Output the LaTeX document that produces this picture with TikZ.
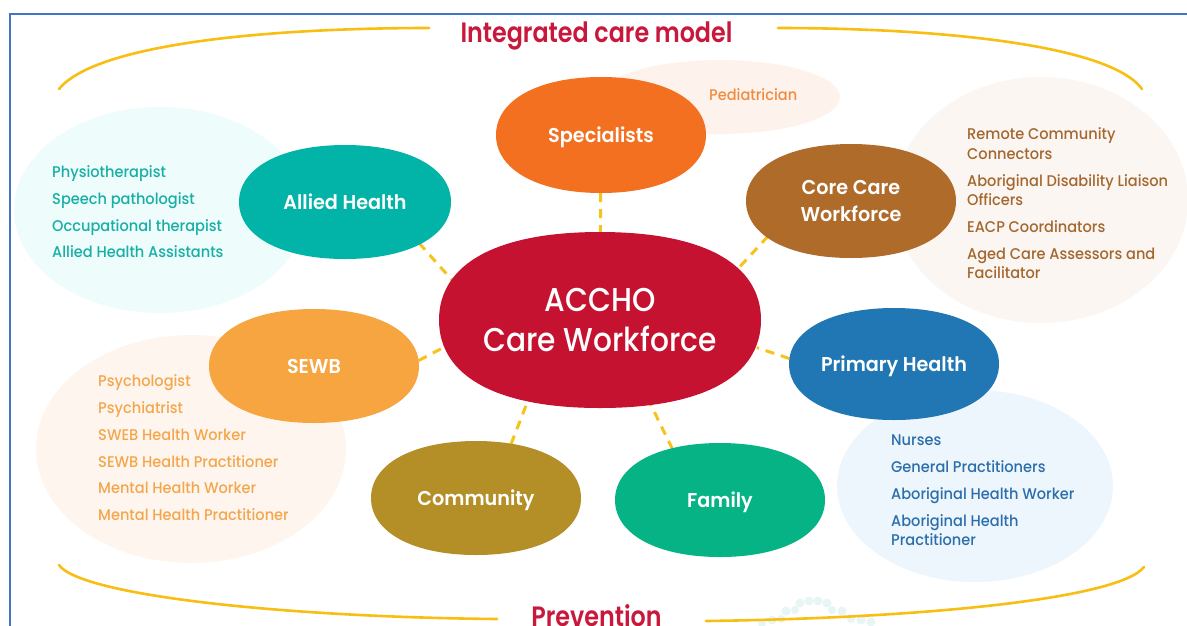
\documentclass[tikz,border=0pt]{standalone}
\usepackage{fontspec}
\setmainfont{Poppins}
\IfFontExistsTF{Poppins Medium}{\def\pmedname{Poppins Medium}}{\def\pmedname{Poppins}}
\IfFontExistsTF{Poppins SemiBold}{\def\psemname{Poppins SemiBold}}{\def\psemname{Poppins Bold}}
\newfontfamily\medf{\pmedname}[FakeStretch=0.94]
\newfontfamily\headf{\psemname}[FakeStretch=0.85]
\newfontfamily\bigf{\pmedname}[FakeStretch=0.9]
\newfontfamily\semif{\psemname}[FakeStretch=0.96]
\usetikzlibrary{shapes.geometric}
\pgfdeclarelayer{bg}\pgfdeclarelayer{conn}\pgfdeclarelayer{blobs}
\pgfsetlayers{bg,conn,blobs,main}
\definecolor{titlered}{HTML}{C8193C}
\definecolor{accred}{HTML}{C41230}
\definecolor{specor}{HTML}{F37021}
\definecolor{alliedteal}{HTML}{02B3A8}
\definecolor{corebrown}{HTML}{AE6B2A}
\definecolor{sewbor}{HTML}{F6A541}
\definecolor{primblue}{HTML}{2077B4}
\definecolor{commgold}{HTML}{B48F28}
\definecolor{famgreen}{HTML}{05B385}
\definecolor{dashcol}{HTML}{F8C21C}
\definecolor{curvecol}{HTML}{F9BE12}
\definecolor{frameblue}{HTML}{4472C4}
\definecolor{alliedbub}{HTML}{EEFCFC}
\definecolor{pedbub}{HTML}{FDF2EC}
\definecolor{corebub}{HTML}{FCF6F2}
\definecolor{sewbbub}{HTML}{FEF6EE}
\definecolor{primbub}{HTML}{EEF6FD}
\definecolor{alliedtxt}{HTML}{17AFA5}
\definecolor{pedtxt}{HTML}{F28B3F}
\definecolor{coretxt}{HTML}{A3672F}
\definecolor{sewbtxt}{HTML}{F4A64C}
\definecolor{primtxt}{HTML}{2B6EAB}
\definecolor{dotcol}{HTML}{E6F6F4}
\def\kap{0.62}
\newcommand\blobfill[5]{%
  \fill[#5] (#1+#3,#2) .. controls (#1+#3,#2-\kap*#4) and (#1+\kap*#3,#2-#4) .. (#1,#2-#4)
   .. controls (#1-\kap*#3,#2-#4) and (#1-#3,#2-\kap*#4) .. (#1-#3,#2)
   .. controls (#1-#3,#2+\kap*#4) and (#1-\kap*#3,#2+#4) .. (#1,#2+#4)
   .. controls (#1+\kap*#3,#2+#4) and (#1+#3,#2+\kap*#4) .. (#1+#3,#2) -- cycle;}
\newcommand\hub[8]{% name x y rx ry color style text
  \begin{pgfonlayer}{blobs}\blobfill{#2}{#3}{#4}{#5}{#6}\end{pgfonlayer}
  \node[hubnode, #7, minimum width=2*#4, minimum height=2*#5] (#1) at (#2,#3) {#8};}
\begin{document}
\begin{tikzpicture}[x=1pt,y=-1pt,
  hubnode/.style={ellipse, inner sep=0pt, text=white, align=center},
  single/.style={font=\semif\fontsize{20}{26}\selectfont, text height=14pt, text depth=0pt},
  double/.style={font=\semif\fontsize{20}{27}\selectfont},
  bigtxt/.style={font=\bigf\fontsize{33}{40}\selectfont},
  conn/.style={draw=dashcol, line width=3pt, dash pattern=on 9pt off 7pt},
  arcline/.style={draw=curvecol, line width=2.6pt, line cap=round},
  listtxt/.style={anchor=base west, inner sep=0pt, font=\medf\fontsize{15.5}{19}\selectfont},
  headtxt/.style={anchor=base, inner sep=0pt, text=titlered, font=\headf\fontsize{28}{28}\selectfont}]
\useasboundingbox (0,0) rectangle (1187,625);
\begin{pgfonlayer}{bg}
  \fill[white] (0,0) rectangle (1187,625);
  % soft bubbles
  \fill[alliedbub] (160,210) ellipse [x radius=146, y radius=103];
  \fill[pedbub] (720,97) ellipse [x radius=120, y radius=37];
  \fill[corebub] (1041,200) ellipse [x radius=147, y radius=123];
  \fill[sewbbub] (191,449) ellipse [x radius=155, y radius=114];
  \fill[primbub] (975,486) ellipse [x radius=138, y radius=96];
  % faint dots at the bottom
  \foreach \dx/\dy/\dr in {800/603/4.5,809/601/4.5,818/601/4.5,827/603/4.5,
      786/611/4.5,795/610/4,832/610/4,842/611/4.5,
      772/620/4.5,781/619/4,851/619/4,861/620/4.5,871/622/4.5,762/624/4}
    \fill[dotcol] (\dx,\dy) circle [radius=\dr];
\end{pgfonlayer}
% frame
\draw[frameblue, line width=2pt] (1187,14) -- (10,14) -- (10,626);
% titles
\node[headtxt] (title) at (596.5,42.5) {Integrated care model};
\node[headtxt] (prev) at (596.5,626) {Prevention};
% curved brackets
\draw[arcline] (59,89) .. controls (95,45) and (260,28) .. (429,28);
\draw[arcline] (778,28) .. controls (940,28) and (1110,45) .. (1142,89);
\draw[arcline] (59,565) .. controls (80,595) and (280,617) .. (497,619);
\draw[arcline] (706,621) .. controls (930,618) and (1120,598) .. (1144,567);
% hubs
\def\kap{0.64}
\hub{accho}{600}{320}{161}{88}{accred}{bigtxt}{ACCHO\\Care Workforce}
\def\kap{0.60}
\hub{spec}{601}{135}{105}{58}{specor}{single}{Specialists}
\hub{allied}{345}{202}{106}{57}{alliedteal}{single}{Allied Health}
\hub{core}{851}{201}{105}{57}{corebrown}{double}{Core Care\\Workforce}
\hub{sewb}{314}{366}{105}{57}{sewbor}{single}{SEWB}
\hub{primary}{894}{364}{105}{56}{primblue}{single}{Primary Health}
\hub{community}{476}{498}{105}{57}{commgold}{single}{Community}
\hub{family}{720}{500}{105}{57}{famgreen}{single}{Family}
% connectors
\begin{pgfonlayer}{conn}
  \draw[conn] (allied.-29) -- (accho.165);
  \draw[conn] (spec) -- (accho);
  \draw[conn] (core.203) -- (accho.20);
  \draw[conn] (sewb.3) -- (accho.190);
  \draw[conn] (primary.177) -- (accho.-10);
  \draw[conn] (community.57) -- (accho.228);
  \draw[conn] (family.133) -- (accho.-59);
\end{pgfonlayer}
% lists
\foreach \yy/\tt [count=\i] in {177/Physiotherapist,204/Speech pathologist,231/Occupational therapist,257/Allied Health Assistants}
  \node[listtxt, text=alliedtxt] (al\i) at (52,\yy) {\tt};
\node[listtxt, text=pedtxt] (ped) at (709,100) {Pediatrician};
\foreach \yy/\tt [count=\i] in {139/Remote Community,159/Connectors,186/Aboriginal Disability Liaison,205/Officers,232/EACP Coordinators,259/Aged Care Assessors and,278/Facilitator}
  \node[listtxt, text=coretxt] (cl\i) at (967,\yy) {\tt};
\foreach \yy/\tt [count=\i] in {386/Psychologist,413/Psychiatrist,440/SWEB Health Worker,467/SEWB Health Practitioner,493/Mental Health Worker,520/Mental Health Practitioner}
  \node[listtxt, text=sewbtxt] (sl\i) at (98,\yy) {\tt};
\foreach \yy/\tt [count=\i] in {445/Nurses,472/General Practitioners,499/Aboriginal Health Worker,526/Aboriginal Health,545/Practitioner}
  \node[listtxt, text=primtxt] (pl\i) at (891,\yy) {\tt};
\end{tikzpicture}
\end{document}
